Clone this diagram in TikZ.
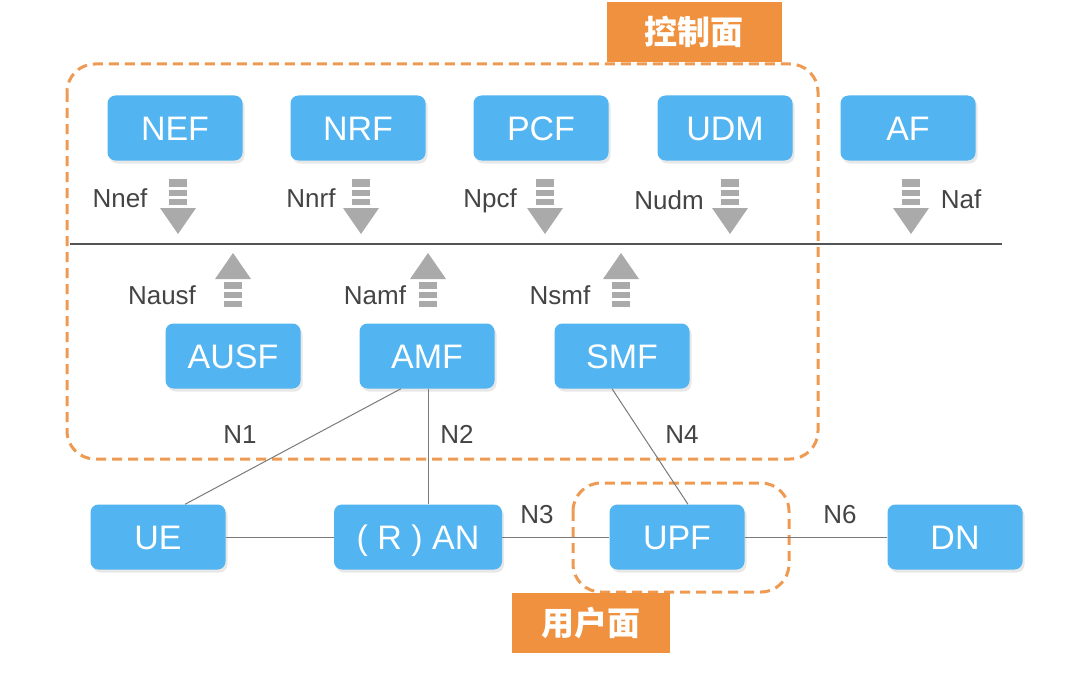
\documentclass[tikz,border=0pt]{standalone}
\usepackage{fontspec}
\setmainfont{Liberation Sans}
\newfontfamily\cjk{Noto Sans CJK SC}
\usetikzlibrary{shadows}
\definecolor{boxblue}{HTML}{52B4F0}
\definecolor{labelgray}{HTML}{444444}
\definecolor{linegray}{HTML}{7A7A7A}
\definecolor{busgray}{HTML}{555555}
\definecolor{arrgray}{HTML}{AAAAAA}
\definecolor{dashorange}{HTML}{EE9A52}
\definecolor{tagorange}{HTML}{F0913F}
\begin{document}
\begin{tikzpicture}[x=1pt,y=-1pt,
  nf/.style={rectangle, rounded corners=8pt, fill=boxblue, text=white,
    minimum width=135pt, minimum height=65pt, inner sep=0pt,
    text height=24.5pt, text depth=0pt,
    font=\fontsize{34}{34}\selectfont,
    drop shadow={opacity=0.18, shadow xshift=2pt, shadow yshift=-3pt}},
  lbl/.style={text=labelgray, font=\fontsize{26}{26}\selectfont, inner sep=0pt, anchor=base},
  link/.style={draw=linegray, line width=1pt},
  plane/.style={draw=dashorange, line width=3pt, dash pattern=on 10pt off 6pt, rounded corners=28pt},
  tag/.style={fill=tagorange, text=white, inner sep=0pt,
    font=\cjk\bfseries\fontsize{33}{33}\selectfont},
  pics/downarr/.style={code={
    \fill[arrgray] (-9,0) rectangle (9,8);
    \fill[arrgray] (-9,11) rectangle (9,17);
    \fill[arrgray] (-9,20) rectangle (9,26);
    \fill[arrgray] (-18,29) -- (18,29) -- (0,55) -- cycle;
  }},
  pics/uparr/.style={code={
    \fill[arrgray] (0,0) -- (18,26) -- (-18,26) -- cycle;
    \fill[arrgray] (-9,29) rectangle (9,36);
    \fill[arrgray] (-9,39) rectangle (9,45);
    \fill[arrgray] (-9,48) rectangle (9,54);
  }}
]
\useasboundingbox (0,0) rectangle (1080,693);
\fill[white] (0,0) rectangle (1080,693);

% planes
\draw[plane] (67,64) rectangle (818,459);
\draw[plane] (573,483) rectangle (789,592);
\node[tag, minimum width=175pt, minimum height=60pt] (cp) at (694,32) {控制面};
\node[tag, minimum width=158pt, minimum height=60pt] (up) at (591,623) {用户面};

% bus
\coordinate (busL) at (70,244);
\coordinate (busR) at (1002,244);
\draw[busgray, line width=2.5pt] (busL) -- (busR);

% top NFs
\node[nf] (NEF) at (175,128) {NEF};
\node[nf] (NRF) at (358,128) {NRF};
\node[nf] (PCF) at (541,128) {PCF};
\node[nf] (UDM) at (725,128) {UDM};
\node[nf] (AF)  at (908,128) {AF};

\pic at (178,179) {downarr};
\pic at (361,179) {downarr};
\pic at (545,179) {downarr};
\pic at (730,179) {downarr};
\pic at (911,179) {downarr};

\node[lbl] (lnef) at (120,207) {Nnef};
\node[lbl] (lnrf) at (311,207) {Nnrf};
\node[lbl] (lpcf) at (490,207) {Npcf};
\node[lbl] (ludm) at (669,209) {Nudm};
\node[lbl] (laf)  at (961,208) {Naf};

% mid NFs
\node[nf] (AUSF) at (233,356) {AUSF};
\node[nf] (AMF)  at (427,356) {AMF};
\node[nf] (SMF)  at (622,356) {SMF};

\pic at (233,253) {uparr};
\pic at (428,253) {uparr};
\pic at (621,253) {uparr};

\node[lbl] (lausf) at (162,304) {Nausf};
\node[lbl] (lamf)  at (375,304) {Namf};
\node[lbl] (lsmf)  at (560,304) {Nsmf};

% bottom row
\node[nf] (UE)  at (158,537) {UE};
\node[nf, minimum width=168pt] (RAN) at (418,537) {( R ) AN};
\node[nf] (UPF) at (677,537) {UPF};
\node[nf] (DN)  at (955,537) {DN};

% links
\draw[link] (UE) -- (RAN);
\draw[link] (RAN) -- (UPF);
\draw[link] (UPF) -- (DN);
\draw[link] ([xshift=-26pt]AMF.south) -- ([xshift=27pt]UE.north);
\draw[link] ([xshift=1pt]AMF.south) -- ([xshift=10pt]RAN.north);
\draw[link] ([xshift=-10pt]SMF.south) -- ([xshift=11pt]UPF.north);

\node[lbl] (n1) at (240,443) {N1};
\node[lbl] (n2) at (457,443) {N2};
\node[lbl] (n4) at (682,443) {N4};
\node[lbl] (n3) at (537,523) {N3};
\node[lbl] (n6) at (840,523) {N6};
\end{tikzpicture}
\end{document}
